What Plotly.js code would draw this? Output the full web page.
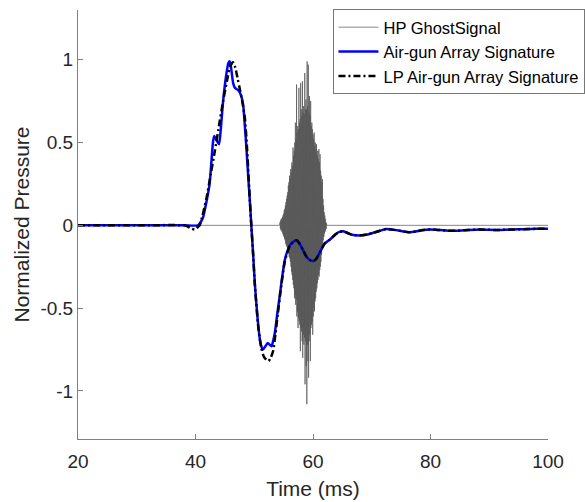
<!DOCTYPE html>
<html>
<head>
<meta charset="utf-8">
<script src="https://cdn.plot.ly/plotly-3.0.1.min.js"></script>
<style>html,body{margin:0;padding:0;background:#fff;}#chart{width:585px;height:502px;}</style>
</head>
<body>
<div id="chart"></div>
<script>
// ---- data ----
const seriesNames = ["HP GhostSignal", "Air-gun Array Signature", "LP Air-gun Array Signature"];

// HP ghost signal: zero outside, dense oscillation between ~54.4 and ~62.35 ms
const ghostTime = [20, 54.3,
  54.40,54.45,54.50,54.55,54.60,54.65,54.70,54.75,54.80,54.85,54.90,54.95,
  55.00,55.05,55.10,55.15,55.20,55.25,55.30,55.35,55.40,55.45,55.50,55.55,55.60,55.65,55.70,55.75,55.80,55.85,55.90,55.95,
  56.00,56.05,56.10,56.15,56.20,56.25,56.30,56.35,56.40,56.45,56.50,56.55,56.60,56.65,56.70,56.75,56.80,56.85,56.90,56.95,
  57.00,57.05,57.10,57.15,57.20,57.25,57.30,57.35,57.40,57.45,57.50,57.55,57.60,57.65,57.70,57.75,57.80,57.85,57.90,57.95,
  58.00,58.05,58.10,58.15,58.20,58.25,58.30,58.35,58.40,58.45,58.50,58.55,58.60,58.65,58.70,58.75,58.80,58.85,58.90,58.95,
  59.00,59.05,59.10,59.15,59.20,59.25,59.30,59.35,59.40,59.45,59.50,59.55,59.60,59.65,59.70,59.75,59.80,59.85,59.90,59.95,
  60.00,60.05,60.10,60.15,60.20,60.25,60.30,60.35,60.40,60.45,60.50,60.55,60.60,60.65,60.70,60.75,60.80,60.85,60.90,60.95,
  61.00,61.05,61.10,61.15,61.20,61.25,61.30,61.35,61.40,61.45,61.50,61.55,61.60,61.65,61.70,61.75,61.80,61.85,61.90,61.95,
  62.00,62.05,62.10,62.15,62.20,62.25,62.30,62.35,
  62.45, 100];
const ghostValue = [0, 0,
  0.02,-0.02,0.03,-0.03,0.04,-0.03,0.04,-0.04,0.05,-0.05,0.06,-0.06,
  0.07,-0.07,0.09,-0.08,0.10,-0.09,0.12,-0.11,0.14,-0.12,0.16,-0.13,0.18,-0.14,0.20,-0.16,0.24,-0.17,0.26,-0.19,
  0.30,-0.20,0.28,-0.22,0.34,-0.25,0.32,-0.28,0.38,-0.30,0.36,-0.33,0.47,-0.36,0.42,-0.38,0.45,-0.44,0.50,-0.42,
  0.62,-0.48,0.52,-0.45,0.85,-0.55,0.56,-0.52,0.60,-0.62,0.58,-0.56,0.83,-0.58,0.62,-0.60,0.64,-0.76,0.86,-0.62,
  0.70,-0.64,0.66,-0.70,0.87,-0.80,0.68,-0.66,0.72,-0.72,0.67,-0.68,0.92,-0.96,0.70,-0.70,0.76,-0.85,0.70,-1.08,
  0.99,-0.72,0.72,-0.82,0.97,-0.92,0.68,-0.70,0.78,-0.66,0.66,-0.82,0.75,-0.62,0.60,-0.60,0.62,-0.58,0.58,-0.66,
  0.55,-0.55,0.52,-0.50,0.56,-0.52,0.48,-0.46,0.50,-0.44,0.46,-0.40,0.49,-0.38,0.42,-0.35,0.45,-0.33,0.40,-0.30,
  0.46,-0.31,0.38,-0.27,0.43,-0.25,0.33,-0.22,0.30,-0.18,0.26,-0.15,0.28,-0.12,0.16,-0.09,0.12,-0.07,0.08,-0.05,
  0.06,-0.04,0.04,-0.03,0.02,-0.02,0.01,0,
  0, 0];

// Air-gun array signature (blue)
const sigTime = [20,30,38,40.4,40.9,41.3,41.8,42.4,42.7,43.0,43.2,43.5,44.0,44.3,44.7,45.2,45.6,45.84,
  46.1,46.4,46.7,47.3,47.7,48.1,48.4,48.7,49.0,49.25,49.5,49.8,50.1,50.4,50.7,51.0,51.2,51.5,
  51.9,52.3,52.6,52.95,53.2,53.5,53.9,54.4,54.8,55.2,55.6,56.1,56.6,57.2,57.7,58.3,58.9,59.5,
  60.1,60.6,61.2,62.0,62.9,63.8,64.5,65.1,65.8,66.5,67.3,68.3,69.3,70.3,71.4,72.5,73.5,74.8,
  76.5,77.5,78.5,79.9,81.5,83,84.5,86.5,88.4,90,91.8,94,95.8,98,100];
const sigValue = [0,0,0,0,0.02,0.05,0.13,0.25,0.38,0.51,0.54,0.52,0.49,0.58,0.75,0.90,0.98,0.99,
  0.94,0.86,0.83,0.815,0.79,0.73,0.60,0.45,0.28,0.15,0,-0.17,-0.35,-0.49,-0.61,-0.70,-0.73,-0.75,
  -0.73,-0.71,-0.72,-0.73,-0.70,-0.65,-0.54,-0.41,-0.30,-0.21,-0.16,-0.12,-0.10,-0.09,-0.11,-0.15,-0.19,-0.21,
  -0.215,-0.20,-0.16,-0.11,-0.085,-0.055,-0.04,-0.036,-0.045,-0.055,-0.06,-0.06,-0.055,-0.045,-0.033,-0.022,-0.026,-0.033,
  -0.042,-0.037,-0.03,-0.025,-0.028,-0.032,-0.033,-0.028,-0.025,-0.027,-0.028,-0.025,-0.023,-0.021,-0.02];

// Low-pass air-gun array signature (black dash-dot)
const lpTime = [20,30,38,38.5,39.2,39.9,40.4,40.7,41.2,41.9,42.6,43.3,43.9,44.7,45.4,45.9,46.4,
  46.8,47.2,47.5,48.0,48.4,48.8,49.25,49.5,49.8,50.1,50.7,51.2,51.6,52.0,52.4,52.8,53.2,53.6,
  54.0,54.4,55.2,56.1,57.2,57.7,58.3,58.9,59.5,60.1,60.6,61.2,62.0,62.9,63.8,64.5,65.1,65.8,
  66.5,67.3,68.3,69.3,70.3,71.4,72.5,73.5,74.8,76.5,77.5,78.5,79.9,81.5,83,84.5,86.5,88.4,
  90,91.8,94,95.8,98,100];
const lpValue = [0,0,0,-0.005,-0.018,-0.025,-0.01,0,0.06,0.17,0.31,0.45,0.58,0.75,0.88,0.96,0.985,
  0.95,0.88,0.83,0.74,0.65,0.45,0.15,0,-0.17,-0.36,-0.62,-0.74,-0.79,-0.81,-0.82,-0.80,-0.76,-0.66,
  -0.54,-0.42,-0.22,-0.12,-0.09,-0.11,-0.15,-0.19,-0.21,-0.215,-0.20,-0.16,-0.11,-0.085,-0.055,-0.04,-0.036,-0.045,
  -0.055,-0.06,-0.06,-0.055,-0.045,-0.033,-0.022,-0.026,-0.033,-0.042,-0.037,-0.03,-0.025,-0.028,-0.032,-0.033,-0.028,-0.025,
  -0.027,-0.028,-0.025,-0.023,-0.021,-0.02];

const xTickVals = [20, 40, 60, 80, 100];
const yTickVals = [-1, -0.5, 0, 0.5, 1];
const yTickText = ["-1", "-0.5", "0", "0.5", "1"];

// ---- plot ----
const FONT = "'Liberation Sans', Arial, Helvetica, sans-serif";
const traces = [
  {x: ghostTime, y: ghostValue, type: "scatter", mode: "lines", name: seriesNames[0],
   line: {color: "#555555", width: 0.7, simplify: false}},
  {x: sigTime, y: sigValue, type: "scatter", mode: "lines", name: seriesNames[1],
   line: {color: "#0000ff", width: 2.5, shape: "spline", smoothing: 0.6}},
  {x: lpTime, y: lpValue, type: "scatter", mode: "lines", name: seriesNames[2],
   line: {color: "#000000", width: 2.5, dash: "7px,3px,2px,3px", shape: "spline", smoothing: 0.6}}
];

const layout = {
  width: 585, height: 502,
  margin: {l: 78.3, r: 37, t: 10, b: 62.7, pad: 0, autoexpand: false},
  paper_bgcolor: "#fff", plot_bgcolor: "#fff",
  font: {family: FONT, color: "#262626"},
  showlegend: true,
  legend: {
    x: 1.078, xanchor: "right", y: 1.002, yanchor: "top",
    bgcolor: "#fff", bordercolor: "#555", borderwidth: 0.8,
    font: {family: FONT, size: 16.5, color: "#000"},
    itemwidth: 40, tracegroupgap: 0
  },
  xaxis: {
    range: [20, 100], tickvals: xTickVals, ticks: "inside", ticklen: 5, tickcolor: "#808080",
    showline: true, linecolor: "#808080", linewidth: 1, mirror: false,
    showgrid: false, zeroline: false, ticklabelstandoff: 5,
    tickfont: {family: FONT, size: 19, color: "#262626"},
    title: {text: "Time (ms)", font: {family: FONT, size: 21, color: "#262626"}, standoff: 10}
  },
  yaxis: {
    range: [-1.29, 1.3], tickvals: yTickVals, ticktext: yTickText, ticks: "inside", ticklen: 5, tickcolor: "#808080",
    showline: true, linecolor: "#808080", linewidth: 1, mirror: false,
    showgrid: false, zeroline: false,
    tickfont: {family: FONT, size: 19, color: "#262626"},
    title: {text: "Normalized Pressure", font: {family: FONT, size: 21, color: "#262626"}, standoff: 5}
  }
};

Plotly.newPlot("chart", traces, layout, {displayModeBar: false, staticPlot: true});
</script>
</body>
</html>
